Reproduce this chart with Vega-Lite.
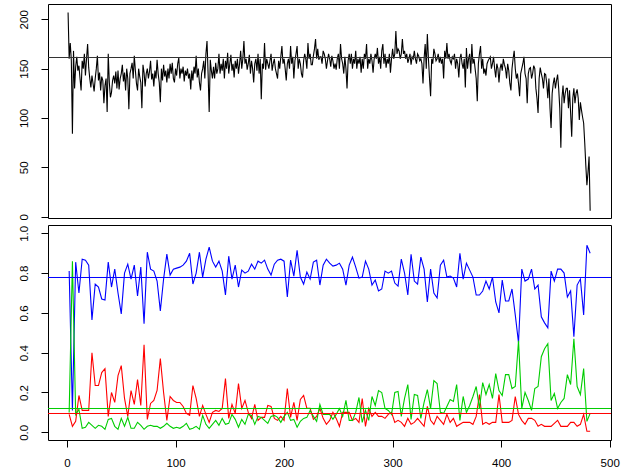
{
"$schema":"https://vega.github.io/schema/vega-lite/v6.json",
"padding":{"left":0,"top":3,"right":15,"bottom":5},
"bounds":"flush",
"spacing":7,
"background":"white",
"config":{
 "view":{"stroke":"#000","strokeWidth":1},
 "axis":{"domain":false,"grid":false,"tickColor":"#000","tickSize":7,"tickWidth":1,"labelColor":"#000","labelFont":"Liberation Sans","labelFontSize":11.5,"title":null},
 "axisY":{"labelAngle":-90,"labelAlign":"center","labelBaseline":"alphabetic","labelPadding":14,"minExtent":47,"maxExtent":47},
 "axisX":{"labelPadding":10,"labelBaseline":"top","labelAngle":0}
},
"vconcat":[
{
 "width":563,"height":214,
 "layer":[
  {"data":{"values":[
{"x":1,"y":207},{"x":2,"y":160},{"x":3,"y":176},{"x":4,"y":158},{"x":5,"y":84},{"x":6,"y":168},{"x":7,"y":130},{"x":8,"y":152},{"x":9,"y":162},{"x":10,"y":148},
{"x":11,"y":153},{"x":12,"y":140},{"x":13,"y":128},{"x":14,"y":158},{"x":15,"y":150},{"x":16,"y":165},{"x":17,"y":143},{"x":18,"y":160},{"x":19,"y":175},{"x":20,"y":151},
{"x":21,"y":140},{"x":22,"y":131},{"x":23,"y":143},{"x":24,"y":135},{"x":25,"y":127},{"x":26,"y":140},{"x":27,"y":150},{"x":28,"y":163},{"x":29,"y":138},{"x":30,"y":146},
{"x":31,"y":128},{"x":32,"y":142},{"x":33,"y":138},{"x":34,"y":115},{"x":35,"y":133},{"x":36,"y":140},{"x":37,"y":106},{"x":38,"y":165},{"x":39,"y":136},{"x":40,"y":121},
{"x":41,"y":126},{"x":42,"y":138},{"x":43,"y":143},{"x":44,"y":135},{"x":45,"y":147},{"x":46,"y":130},{"x":47,"y":148},{"x":48,"y":129},{"x":49,"y":140},{"x":50,"y":145},
{"x":51,"y":154},{"x":52,"y":137},{"x":53,"y":146},{"x":54,"y":128},{"x":55,"y":150},{"x":56,"y":140},{"x":57,"y":109},{"x":58,"y":145},{"x":59,"y":150},{"x":60,"y":156},
{"x":61,"y":140},{"x":62,"y":163},{"x":63,"y":148},{"x":64,"y":135},{"x":65,"y":128},{"x":66,"y":150},{"x":67,"y":142},{"x":68,"y":136},{"x":69,"y":110},{"x":70,"y":154},
{"x":71,"y":146},{"x":72,"y":132},{"x":73,"y":145},{"x":74,"y":150},{"x":75,"y":140},{"x":76,"y":147},{"x":77,"y":158},{"x":78,"y":139},{"x":79,"y":145},{"x":80,"y":132},
{"x":81,"y":148},{"x":82,"y":140},{"x":83,"y":159},{"x":84,"y":145},{"x":85,"y":136},{"x":86,"y":116},{"x":87,"y":150},{"x":88,"y":138},{"x":89,"y":154},{"x":90,"y":142},
{"x":91,"y":148},{"x":92,"y":136},{"x":93,"y":150},{"x":94,"y":140},{"x":95,"y":155},{"x":96,"y":145},{"x":97,"y":156},{"x":98,"y":140},{"x":99,"y":136},{"x":100,"y":150},
{"x":101,"y":143},{"x":102,"y":155},{"x":103,"y":161},{"x":104,"y":140},{"x":105,"y":150},{"x":106,"y":145},{"x":107,"y":152},{"x":108,"y":137},{"x":109,"y":148},{"x":110,"y":143},
{"x":111,"y":150},{"x":112,"y":140},{"x":113,"y":145},{"x":114,"y":129},{"x":115,"y":148},{"x":116,"y":138},{"x":117,"y":152},{"x":118,"y":145},{"x":119,"y":163},{"x":120,"y":141},
{"x":121,"y":150},{"x":122,"y":136},{"x":123,"y":128},{"x":124,"y":145},{"x":125,"y":150},{"x":126,"y":158},{"x":127,"y":140},{"x":128,"y":165},{"x":129,"y":178},{"x":130,"y":145},
{"x":131,"y":106},{"x":132,"y":159},{"x":133,"y":148},{"x":134,"y":140},{"x":135,"y":152},{"x":136,"y":140},{"x":137,"y":156},{"x":138,"y":145},{"x":139,"y":150},{"x":140,"y":165},
{"x":141,"y":145},{"x":142,"y":155},{"x":143,"y":148},{"x":144,"y":160},{"x":145,"y":140},{"x":146,"y":158},{"x":147,"y":150},{"x":148,"y":166},{"x":149,"y":145},{"x":150,"y":155},
{"x":151,"y":164},{"x":152,"y":148},{"x":153,"y":155},{"x":154,"y":141},{"x":155,"y":158},{"x":156,"y":150},{"x":157,"y":160},{"x":158,"y":145},{"x":159,"y":155},{"x":160,"y":168},
{"x":161,"y":150},{"x":162,"y":160},{"x":163,"y":178},{"x":164,"y":155},{"x":165,"y":160},{"x":166,"y":149},{"x":167,"y":155},{"x":168,"y":164},{"x":169,"y":145},{"x":170,"y":158},
{"x":171,"y":150},{"x":172,"y":136},{"x":173,"y":155},{"x":174,"y":160},{"x":175,"y":148},{"x":176,"y":165},{"x":177,"y":145},{"x":178,"y":160},{"x":179,"y":119},{"x":180,"y":155},
{"x":181,"y":150},{"x":182,"y":176},{"x":183,"y":149},{"x":184,"y":160},{"x":185,"y":155},{"x":186,"y":150},{"x":187,"y":158},{"x":188,"y":165},{"x":189,"y":148},{"x":190,"y":155},
{"x":191,"y":160},{"x":192,"y":150},{"x":193,"y":145},{"x":194,"y":140},{"x":195,"y":158},{"x":196,"y":150},{"x":197,"y":162},{"x":198,"y":173},{"x":199,"y":155},{"x":200,"y":160},
{"x":201,"y":150},{"x":202,"y":138},{"x":203,"y":155},{"x":204,"y":160},{"x":205,"y":150},{"x":206,"y":173},{"x":207,"y":155},{"x":208,"y":162},{"x":209,"y":140},{"x":210,"y":158},
{"x":211,"y":165},{"x":212,"y":173},{"x":213,"y":150},{"x":214,"y":160},{"x":215,"y":155},{"x":216,"y":145},{"x":217,"y":141},{"x":218,"y":158},{"x":219,"y":165},{"x":220,"y":160},
{"x":221,"y":150},{"x":222,"y":176},{"x":223,"y":160},{"x":224,"y":165},{"x":225,"y":154},{"x":226,"y":154},{"x":227,"y":163},{"x":228,"y":170},{"x":229,"y":180},{"x":230,"y":160},
{"x":231,"y":170},{"x":232,"y":159},{"x":233,"y":162},{"x":234,"y":162},{"x":235,"y":155},{"x":236,"y":168},{"x":237,"y":165},{"x":238,"y":160},{"x":239,"y":150},{"x":240,"y":158},
{"x":241,"y":165},{"x":242,"y":160},{"x":243,"y":152},{"x":244,"y":163},{"x":245,"y":158},{"x":246,"y":150},{"x":247,"y":155},{"x":248,"y":149},{"x":249,"y":160},{"x":250,"y":165},
{"x":251,"y":150},{"x":252,"y":175},{"x":253,"y":160},{"x":254,"y":155},{"x":255,"y":145},{"x":256,"y":162},{"x":257,"y":150},{"x":258,"y":130},{"x":259,"y":158},{"x":260,"y":165},
{"x":261,"y":155},{"x":262,"y":165},{"x":263,"y":150},{"x":264,"y":160},{"x":265,"y":155},{"x":266,"y":168},{"x":267,"y":150},{"x":268,"y":160},{"x":269,"y":155},{"x":270,"y":162},
{"x":271,"y":146},{"x":272,"y":160},{"x":273,"y":150},{"x":274,"y":165},{"x":275,"y":160},{"x":276,"y":175},{"x":277,"y":150},{"x":278,"y":160},{"x":279,"y":155},{"x":280,"y":165},
{"x":281,"y":158},{"x":282,"y":146},{"x":283,"y":160},{"x":284,"y":165},{"x":285,"y":160},{"x":286,"y":171},{"x":287,"y":155},{"x":288,"y":162},{"x":289,"y":150},{"x":290,"y":168},
{"x":291,"y":175},{"x":292,"y":155},{"x":293,"y":165},{"x":294,"y":151},{"x":295,"y":160},{"x":296,"y":155},{"x":297,"y":165},{"x":298,"y":146},{"x":299,"y":160},{"x":300,"y":170},
{"x":301,"y":160},{"x":302,"y":165},{"x":303,"y":188},{"x":304,"y":165},{"x":305,"y":170},{"x":306,"y":168},{"x":307,"y":160},{"x":308,"y":165},{"x":309,"y":180},{"x":310,"y":165},
{"x":311,"y":168},{"x":312,"y":160},{"x":313,"y":165},{"x":314,"y":156},{"x":315,"y":160},{"x":316,"y":165},{"x":317,"y":154},{"x":318,"y":162},{"x":319,"y":160},{"x":320,"y":168},
{"x":321,"y":160},{"x":322,"y":155},{"x":323,"y":165},{"x":324,"y":163},{"x":325,"y":158},{"x":326,"y":160},{"x":327,"y":155},{"x":328,"y":135},{"x":329,"y":160},{"x":330,"y":175},
{"x":331,"y":150},{"x":332,"y":185},{"x":333,"y":160},{"x":334,"y":140},{"x":335,"y":122},{"x":336,"y":160},{"x":337,"y":155},{"x":338,"y":170},{"x":339,"y":165},{"x":340,"y":158},
{"x":341,"y":160},{"x":342,"y":165},{"x":343,"y":156},{"x":344,"y":162},{"x":345,"y":155},{"x":346,"y":160},{"x":347,"y":140},{"x":348,"y":168},{"x":349,"y":160},{"x":350,"y":176},
{"x":351,"y":160},{"x":352,"y":165},{"x":353,"y":158},{"x":354,"y":155},{"x":355,"y":162},{"x":356,"y":160},{"x":357,"y":165},{"x":358,"y":150},{"x":359,"y":160},{"x":360,"y":155},
{"x":361,"y":141},{"x":362,"y":160},{"x":363,"y":165},{"x":364,"y":155},{"x":365,"y":150},{"x":366,"y":160},{"x":367,"y":131},{"x":368,"y":171},{"x":369,"y":150},{"x":370,"y":160},
{"x":371,"y":165},{"x":372,"y":145},{"x":373,"y":175},{"x":374,"y":155},{"x":375,"y":160},{"x":376,"y":150},{"x":377,"y":140},{"x":378,"y":117},{"x":379,"y":155},{"x":380,"y":165},
{"x":381,"y":173},{"x":382,"y":150},{"x":383,"y":160},{"x":384,"y":145},{"x":385,"y":150},{"x":386,"y":143},{"x":387,"y":155},{"x":388,"y":158},{"x":389,"y":160},{"x":390,"y":162},
{"x":391,"y":150},{"x":392,"y":155},{"x":393,"y":162},{"x":394,"y":150},{"x":395,"y":141},{"x":396,"y":155},{"x":397,"y":150},{"x":398,"y":136},{"x":399,"y":150},{"x":400,"y":155},
{"x":401,"y":148},{"x":402,"y":160},{"x":403,"y":154},{"x":404,"y":150},{"x":405,"y":140},{"x":406,"y":155},{"x":407,"y":148},{"x":408,"y":135},{"x":409,"y":128},{"x":410,"y":150},
{"x":411,"y":160},{"x":412,"y":168},{"x":413,"y":150},{"x":414,"y":140},{"x":415,"y":145},{"x":416,"y":135},{"x":417,"y":122},{"x":418,"y":145},{"x":419,"y":150},{"x":420,"y":155},
{"x":421,"y":162},{"x":422,"y":145},{"x":423,"y":140},{"x":424,"y":115},{"x":425,"y":145},{"x":426,"y":150},{"x":427,"y":151},{"x":428,"y":140},{"x":429,"y":145},{"x":430,"y":153},
{"x":431,"y":150},{"x":432,"y":130},{"x":433,"y":120},{"x":434,"y":105},{"x":435,"y":140},{"x":436,"y":151},{"x":437,"y":145},{"x":438,"y":140},{"x":439,"y":130},{"x":440,"y":145},
{"x":441,"y":144},{"x":442,"y":135},{"x":443,"y":120},{"x":444,"y":140},{"x":445,"y":110},{"x":446,"y":90},{"x":447,"y":125},{"x":448,"y":135},{"x":449,"y":141},{"x":450,"y":130},
{"x":451,"y":138},{"x":452,"y":144},{"x":453,"y":130},{"x":454,"y":110},{"x":455,"y":70},{"x":456,"y":120},{"x":457,"y":133},{"x":458,"y":115},{"x":459,"y":125},{"x":460,"y":130},
{"x":461,"y":130},{"x":462,"y":110},{"x":463,"y":128},{"x":464,"y":105},{"x":465,"y":81},{"x":466,"y":120},{"x":467,"y":130},{"x":468,"y":115},{"x":469,"y":125},{"x":470,"y":129},
{"x":471,"y":120},{"x":472,"y":98},{"x":473,"y":116},{"x":474,"y":108},{"x":475,"y":101},{"x":476,"y":95},{"x":477,"y":75},{"x":478,"y":52},{"x":479,"y":32},{"x":480,"y":45},
{"x":481,"y":61},{"x":482,"y":6}
 ]},
   "mark":{"type":"line","color":"#000000","strokeWidth":1.1,"clip":true},
   "encoding":{
    "x":{"field":"x","type":"quantitative","scale":{"domain":[-17.5,501.2],"nice":false,"zero":false},"axis":null},
    "y":{"field":"y","type":"quantitative","scale":{"domain":[-1.3,215.5],"nice":false,"zero":false},"axis":{"values":[0,50,100,150,200]}}
   }},
  {"data":{"values":[{"ref":161.3}]},"mark":{"type":"rule","stroke":"#333333","strokeWidth":1},"encoding":{"y":{"field":"ref","type":"quantitative"}}}
 ]
},
{
 "width":563,"height":215,
 "layer":[
  {"data":{"name":"props"},
   "mark":{"type":"line","color":"#0000FF","strokeWidth":1.1,"clip":true},
   "encoding":{
    "x":{"field":"x","type":"quantitative","scale":{"domain":[-17.5,501.2],"nice":false,"zero":false},"axis":{"values":[0,100,200,300,400,500]}},
    "y":{"field":"b","type":"quantitative","scale":{"domain":[-0.0387,1.0417],"nice":false,"zero":false},"axis":{"values":[0,0.2,0.4,0.6,0.8,1.0],"format":".1f"}}
   }},
  {"data":{"name":"props"},"mark":{"type":"line","color":"#FF0000","strokeWidth":1.1,"clip":true},
   "encoding":{"x":{"field":"x","type":"quantitative"},"y":{"field":"r","type":"quantitative"}}},
  {"data":{"name":"props"},"mark":{"type":"line","color":"#00CD00","strokeWidth":1.1,"clip":true},
   "encoding":{"x":{"field":"x","type":"quantitative"},"y":{"field":"g","type":"quantitative"}}},
  {"data":{"values":[{"refb":0.7779}]},"mark":{"type":"rule","stroke":"#0000FF","strokeWidth":1},"encoding":{"y":{"field":"refb","type":"quantitative"}}},
  {"data":{"values":[{"refg":0.1196}]},"mark":{"type":"rule","stroke":"#00CD00","strokeWidth":1},"encoding":{"y":{"field":"refg","type":"quantitative"}}},
  {"data":{"values":[{"refr":0.0945}]},"mark":{"type":"rule","stroke":"#FF0000","strokeWidth":1},"encoding":{"y":{"field":"refr","type":"quantitative"}}}
 ]
}
],
"datasets":{"props":[
{"x":2,"b":0.81,"r":0.09,"g":0.10},{"x":5,"b":0.11,"r":0.03,"g":0.86},{"x":8,"b":0.855,"r":0.055,"g":0.09},{"x":11,"b":0.70,"r":0.185,"g":0.115},{"x":14,"b":0.87,"r":0.11,"g":0.02},
{"x":17,"b":0.865,"r":0.11,"g":0.025},{"x":20,"b":0.84,"r":0.11,"g":0.05},{"x":23,"b":0.565,"r":0.40,"g":0.035},{"x":26,"b":0.745,"r":0.235,"g":0.02},{"x":29,"b":0.73,"r":0.235,"g":0.035},
{"x":32,"b":0.67,"r":0.30,"g":0.03},{"x":35,"b":0.665,"r":0.32,"g":0.015},{"x":38,"b":0.855,"r":0.08,"g":0.065},{"x":41,"b":0.73,"r":0.20,"g":0.07},{"x":44,"b":0.82,"r":0.15,"g":0.03},
{"x":47,"b":0.70,"r":0.285,"g":0.015},{"x":50,"b":0.595,"r":0.335,"g":0.07},{"x":53,"b":0.80,"r":0.17,"g":0.03},{"x":56,"b":0.845,"r":0.08,"g":0.075},{"x":59,"b":0.77,"r":0.21,"g":0.02},
{"x":62,"b":0.84,"r":0.14,"g":0.02},{"x":65,"b":0.685,"r":0.265,"g":0.05},{"x":68,"b":0.83,"r":0.135,"g":0.035},{"x":71,"b":0.545,"r":0.44,"g":0.015},{"x":74,"b":0.905,"r":0.065,"g":0.03},
{"x":77,"b":0.82,"r":0.145,"g":0.035},{"x":80,"b":0.81,"r":0.16,"g":0.03},{"x":83,"b":0.76,"r":0.21,"g":0.03},{"x":86,"b":0.61,"r":0.37,"g":0.02},{"x":89,"b":0.77,"r":0.20,"g":0.03},
{"x":92,"b":0.895,"r":0.06,"g":0.045},{"x":95,"b":0.79,"r":0.18,"g":0.03},{"x":98,"b":0.82,"r":0.16,"g":0.02},{"x":101,"b":0.825,"r":0.15,"g":0.025},{"x":104,"b":0.83,"r":0.15,"g":0.02},
{"x":107,"b":0.84,"r":0.13,"g":0.03},{"x":110,"b":0.86,"r":0.095,"g":0.045},{"x":113,"b":0.90,"r":0.085,"g":0.015},{"x":116,"b":0.745,"r":0.235,"g":0.02},{"x":119,"b":0.80,"r":0.17,"g":0.03},
{"x":122,"b":0.905,"r":0.08,"g":0.015},{"x":125,"b":0.78,"r":0.135,"g":0.085},{"x":128,"b":0.87,"r":0.09,"g":0.04},{"x":131,"b":0.93,"r":0.05,"g":0.02},{"x":134,"b":0.86,"r":0.10,"g":0.04},
{"x":137,"b":0.83,"r":0.11,"g":0.06},{"x":140,"b":0.86,"r":0.105,"g":0.035},{"x":143,"b":0.81,"r":0.12,"g":0.07},{"x":146,"b":0.69,"r":0.27,"g":0.04},{"x":149,"b":0.885,"r":0.07,"g":0.045},
{"x":152,"b":0.77,"r":0.14,"g":0.09},{"x":155,"b":0.84,"r":0.095,"g":0.065},{"x":158,"b":0.73,"r":0.245,"g":0.025},{"x":161,"b":0.815,"r":0.12,"g":0.065},{"x":164,"b":0.80,"r":0.16,"g":0.04},
{"x":167,"b":0.81,"r":0.10,"g":0.09},{"x":170,"b":0.845,"r":0.07,"g":0.085},{"x":173,"b":0.82,"r":0.14,"g":0.04},{"x":176,"b":0.86,"r":0.06,"g":0.08},{"x":179,"b":0.85,"r":0.075,"g":0.075},
{"x":182,"b":0.865,"r":0.075,"g":0.06},{"x":185,"b":0.82,"r":0.135,"g":0.045},{"x":188,"b":0.79,"r":0.13,"g":0.08},{"x":191,"b":0.845,"r":0.07,"g":0.085},{"x":194,"b":0.865,"r":0.06,"g":0.075},
{"x":197,"b":0.87,"r":0.08,"g":0.05},{"x":200,"b":0.86,"r":0.06,"g":0.08},{"x":203,"b":0.68,"r":0.22,"g":0.10},{"x":206,"b":0.865,"r":0.075,"g":0.06},{"x":209,"b":0.785,"r":0.15,"g":0.065},
{"x":212,"b":0.915,"r":0.06,"g":0.025},{"x":215,"b":0.78,"r":0.165,"g":0.055},{"x":218,"b":0.745,"r":0.185,"g":0.07},{"x":221,"b":0.805,"r":0.12,"g":0.075},{"x":224,"b":0.77,"r":0.12,"g":0.11},
{"x":227,"b":0.855,"r":0.065,"g":0.08},{"x":230,"b":0.865,"r":0.08,"g":0.055},{"x":233,"b":0.74,"r":0.12,"g":0.14},{"x":236,"b":0.84,"r":0.07,"g":0.09},{"x":239,"b":0.87,"r":0.04,"g":0.09},
{"x":242,"b":0.85,"r":0.06,"g":0.09},{"x":245,"b":0.835,"r":0.10,"g":0.065},{"x":248,"b":0.84,"r":0.07,"g":0.09},{"x":251,"b":0.85,"r":0.03,"g":0.12},{"x":254,"b":0.82,"r":0.10,"g":0.08},
{"x":257,"b":0.74,"r":0.10,"g":0.16},{"x":260,"b":0.84,"r":0.10,"g":0.06},{"x":263,"b":0.88,"r":0.06,"g":0.06},{"x":266,"b":0.83,"r":0.07,"g":0.10},{"x":269,"b":0.775,"r":0.05,"g":0.175},
{"x":272,"b":0.78,"r":0.17,"g":0.05},{"x":275,"b":0.86,"r":0.03,"g":0.11},{"x":278,"b":0.82,"r":0.12,"g":0.06},{"x":281,"b":0.74,"r":0.08,"g":0.18},{"x":284,"b":0.765,"r":0.10,"g":0.135},
{"x":287,"b":0.71,"r":0.08,"g":0.21},{"x":290,"b":0.72,"r":0.08,"g":0.20},{"x":293,"b":0.81,"r":0.07,"g":0.12},{"x":296,"b":0.80,"r":0.09,"g":0.11},{"x":299,"b":0.81,"r":0.10,"g":0.09},
{"x":302,"b":0.75,"r":0.05,"g":0.20},{"x":305,"b":0.735,"r":0.06,"g":0.205},{"x":308,"b":0.87,"r":0.05,"g":0.08},{"x":311,"b":0.80,"r":0.03,"g":0.17},{"x":314,"b":0.69,"r":0.07,"g":0.24},
{"x":317,"b":0.895,"r":0.04,"g":0.065},{"x":320,"b":0.76,"r":0.05,"g":0.19},{"x":323,"b":0.745,"r":0.07,"g":0.185},{"x":326,"b":0.88,"r":0.05,"g":0.07},{"x":329,"b":0.82,"r":0.03,"g":0.15},
{"x":332,"b":0.655,"r":0.13,"g":0.215},{"x":335,"b":0.82,"r":0.06,"g":0.12},{"x":338,"b":0.70,"r":0.04,"g":0.26},{"x":341,"b":0.675,"r":0.08,"g":0.245},{"x":344,"b":0.84,"r":0.06,"g":0.10},
{"x":347,"b":0.865,"r":0.04,"g":0.095},{"x":350,"b":0.78,"r":0.09,"g":0.13},{"x":353,"b":0.785,"r":0.05,"g":0.165},{"x":356,"b":0.775,"r":0.07,"g":0.155},{"x":359,"b":0.73,"r":0.03,"g":0.24},
{"x":362,"b":0.90,"r":0.04,"g":0.06},{"x":365,"b":0.77,"r":0.05,"g":0.18},{"x":368,"b":0.85,"r":0.05,"g":0.10},{"x":371,"b":0.815,"r":0.05,"g":0.135},{"x":374,"b":0.78,"r":0.04,"g":0.18},
{"x":377,"b":0.69,"r":0.08,"g":0.23},{"x":380,"b":0.69,"r":0.19,"g":0.12},{"x":383,"b":0.71,"r":0.04,"g":0.25},{"x":386,"b":0.76,"r":0.05,"g":0.19},{"x":389,"b":0.72,"r":0.04,"g":0.24},
{"x":392,"b":0.78,"r":0.05,"g":0.17},{"x":395,"b":0.655,"r":0.05,"g":0.295},{"x":398,"b":0.60,"r":0.19,"g":0.21},{"x":401,"b":0.765,"r":0.05,"g":0.185},{"x":404,"b":0.66,"r":0.05,"g":0.29},
{"x":407,"b":0.66,"r":0.05,"g":0.29},{"x":410,"b":0.72,"r":0.06,"g":0.22},{"x":413,"b":0.59,"r":0.18,"g":0.23},{"x":416,"b":0.45,"r":0.09,"g":0.46},{"x":419,"b":0.82,"r":0.06,"g":0.12},
{"x":422,"b":0.76,"r":0.04,"g":0.20},{"x":425,"b":0.77,"r":0.07,"g":0.16},{"x":428,"b":0.82,"r":0.07,"g":0.11},{"x":431,"b":0.72,"r":0.06,"g":0.22},{"x":434,"b":0.74,"r":0.03,"g":0.23},
{"x":437,"b":0.58,"r":0.04,"g":0.38},{"x":440,"b":0.55,"r":0.03,"g":0.42},{"x":443,"b":0.525,"r":0.03,"g":0.445},{"x":446,"b":0.81,"r":0.03,"g":0.16},{"x":449,"b":0.76,"r":0.045,"g":0.195},
{"x":452,"b":0.82,"r":0.06,"g":0.12},{"x":455,"b":0.82,"r":0.03,"g":0.15},{"x":458,"b":0.80,"r":0.03,"g":0.17},{"x":461,"b":0.68,"r":0.03,"g":0.29},{"x":464,"b":0.71,"r":0.05,"g":0.24},
{"x":467,"b":0.48,"r":0.05,"g":0.47},{"x":470,"b":0.74,"r":0.03,"g":0.23},{"x":473,"b":0.77,"r":0.04,"g":0.19},{"x":476,"b":0.59,"r":0.09,"g":0.32},{"x":479,"b":0.94,"r":0.005,"g":0.055},
{"x":482,"b":0.90,"r":0.005,"g":0.095}
]}
}
